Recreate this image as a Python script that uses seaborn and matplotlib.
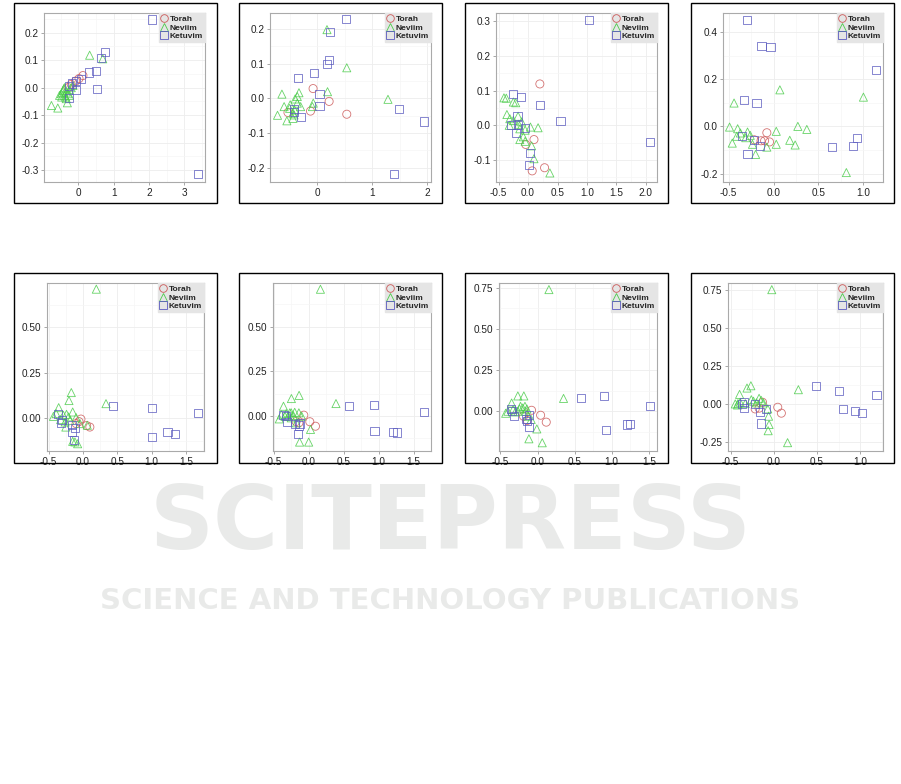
import matplotlib
matplotlib.use('Agg')
import matplotlib.pyplot as plt
from matplotlib.lines import Line2D
from matplotlib.patches import Rectangle
from matplotlib.ticker import FixedLocator, MultipleLocator
import seaborn as sns
import pandas as pd

groups = ['Torah', 'Neviim', 'Ketuvim']
colors = {'Torah': '#cc5a5a', 'Neviim': '#4ccc4c', 'Ketuvim': '#5a5abf'}
markers = {'Torah': 'o', 'Neviim': '^', 'Ketuvim': 's'}

torah_x = [
    [0.13, 0.02, -0.075, -0.2, -0.29],
    [-0.073, 0.219, -0.12, 0.54, -0.53],
    [0.20, 0.10, -0.04, 0.28, 0.07],
    [-0.075, -0.045, -0.14, -0.215, -0.10],
    [-0.03, 0.10, 0.053, -0.10, -0.058],
    [-0.07, 0.016, 0.097, -0.18, -0.14],
    [-0.081, 0.041, 0.117, -0.19, -0.14],
    [-0.13, 0.046, 0.088, -0.215, -0.17],
]
torah_y = [
    [0.044, 0.033, 0.024, 0.012, 0.0],
    [0.028, -0.009, -0.037, -0.046, -0.041],
    [0.119, -0.041, -0.055, -0.122, -0.131],
    [-0.027, -0.066, -0.061, -0.057, -0.061],
    [-0.006, -0.05, -0.042, -0.031, -0.02],
    [0.004, -0.033, -0.058, -0.032, -0.039],
    [0.006, -0.024, -0.066, -0.03, -0.056],
    [0.011, -0.022, -0.061, -0.033, -0.028],
]
neviim_x = [
    [0.32, 0.69, -0.76, -0.58, -0.31, -0.43, -0.48, -0.39, -0.34, -0.41, -0.25,
     -0.2, -0.36, -0.45, -0.29, -0.53, -0.15, -0.25, -0.39, -0.47, -0.34],
    [0.18, 0.54, 1.29, 0.19, -0.64, -0.33, -0.72, -0.55, -0.44, -0.40, -0.36,
     -0.07, -0.085, -0.60, -0.50, -0.41, -0.30, -0.44, -0.49, -0.36, -0.42],
    [-0.41, -0.37, -0.25, -0.21, -0.36, -0.17, -0.32, -0.16, -0.14, -0.05, 0.04,
     0.17, -0.14, -0.05, 0.06, 0.10, 0.37, -0.25, -0.11, -0.31, -0.08],
    [0.07, 1.0, -0.44, -0.49, -0.40, -0.29, 0.03, 0.27, 0.37, 0.18, 0.24,
     0.03, -0.075, -0.20, -0.46, -0.41, -0.31, 0.81, -0.235, -0.37, -0.26],
    [0.194, 0.335, -0.17, -0.204, -0.15, -0.354, -0.43, -0.39, -0.286, -0.24, -0.21,
     -0.25, -0.10, 0.063, -0.15, -0.078, -0.117, -0.325, -0.19, -0.26, -0.044],
    [0.168, 0.39, -0.137, -0.247, -0.36, -0.42, -0.39, -0.32, -0.25, -0.2, -0.14,
     -0.29, -0.22, -0.175, 0.026, -0.13, 0.0, -0.34, -0.25, -0.10, -0.27],
    [0.153, 0.35, -0.266, -0.185, -0.35, -0.43, -0.40, -0.23, -0.17, -0.144, -0.30,
     -0.243, -0.086, -0.01, -0.117, 0.063, -0.2, -0.33, -0.13, -0.266, -0.158],
    [-0.023, 0.285, 0.16, -0.31, -0.265, -0.396, -0.446, -0.415, -0.26, -0.17, -0.146,
     -0.2, -0.07, -0.06, -0.054, -0.065, -0.39, -0.235, -0.33, -0.12, -0.42],
]
neviim_y = [
    [0.118, 0.105, -0.065, -0.074, -0.055, -0.01, -0.022, -0.028, -0.016, -0.004, -0.007,
     0.0, -0.034, -0.017, -0.022, -0.028, 0.008, -0.028, 0.0, -0.034, -0.04],
    [0.198, 0.088, -0.003, 0.019, 0.012, 0.016, -0.049, -0.065, -0.058, -0.002, -0.014,
     -0.014, -0.024, -0.024, -0.029, -0.034, -0.024, -0.043, -0.019, 0.005, -0.048],
    [0.079, 0.078, 0.067, 0.065, 0.031, 0.026, 0.0, 0.003, -0.01, -0.014, -0.005,
     -0.007, -0.041, -0.046, -0.059, -0.096, -0.137, 0.014, 0.01, 0.019, -0.033],
    [0.155, 0.124, 0.099, -0.003, -0.01, -0.024, -0.021, 0.0, -0.013, -0.059, -0.079,
     -0.076, -0.088, -0.119, -0.071, -0.042, -0.048, -0.196, -0.076, -0.028, -0.038],
    [0.71, 0.079, 0.14, 0.096, 0.033, 0.057, 0.009, 0.024, 0.015, 0.02, 0.006,
     -0.05, 0.002, -0.04, -0.129, -0.142, -0.132, -0.009, -0.013, -0.022, -0.031],
    [0.71, 0.069, 0.115, 0.097, 0.054, -0.017, 0.006, 0.013, 0.017, 0.02, 0.017,
     -0.002, 0.002, -0.039, -0.076, -0.147, -0.147, -0.002, -0.011, -0.002, 0.017],
    [0.738, 0.078, 0.093, 0.093, 0.05, -0.012, 0.0, 0.03, 0.03, 0.014, -0.004,
     0.014, -0.05, -0.107, -0.167, -0.191, 0.02, 0.01, -0.03, 0.0, 0.0],
    [0.755, 0.094, -0.256, 0.105, 0.12, 0.063, 0.0, 0.002, 0.028, 0.037, 0.024,
     0.007, -0.033, -0.081, -0.136, -0.177, 0.011, 0.018, 0.002, 0.007, -0.007],
]
ketuvim_x = [
    [2.08, 3.39, 0.755, 0.64, 0.50, 0.30, 0.53, 0.085, -0.057, -0.057, -0.26, -0.26, -0.17],
    [0.53, 0.237, 0.213, 0.176, -0.06, -0.34, 0.043, 0.043, -0.30, -0.42, 1.49, 1.95, 1.40, -0.42],
    [1.04, 2.07, 0.55, 0.21, -0.12, -0.25, -0.18, -0.29, -0.21, -0.05, 0.03, 0.02, -0.17],
    [-0.30, -0.134, -0.034, 1.14, -0.334, -0.19, -0.35, -0.22, -0.15, -0.29, 0.65, 0.88, 0.93],
    [0.44, 1.0, 1.68, 1.0, 1.23, 1.345, -0.364, -0.316, -0.30, -0.16, -0.11, -0.16, -0.126],
    [0.58, 0.93, 1.65, 0.94, 1.2, 1.26, -0.36, -0.31, -0.33, -0.13, -0.14, -0.15, -0.2],
    [0.58, 0.89, 1.52, 0.92, 1.2, 1.25, -0.36, -0.32, -0.34, -0.11, -0.14, -0.12, -0.15],
    [0.49, 0.76, 1.19, 0.805, 0.94, 1.02, -0.34, -0.34, -0.37, -0.085, -0.158, -0.146, -0.215],
]
ketuvim_y = [
    [0.248, -0.315, 0.130, 0.109, 0.061, 0.055, -0.005, 0.033, 0.024, -0.01, -0.036, 0.005, 0.015],
    [0.229, 0.191, 0.111, 0.098, 0.074, 0.059, 0.012, -0.023, -0.053, -0.03, -0.031, -0.067, -0.219, -0.039],
    [0.303, -0.047, 0.013, 0.059, 0.082, 0.089, 0.027, 0.001, -0.022, -0.008, -0.079, -0.113, 0.001],
    [0.452, 0.341, 0.338, 0.240, 0.112, 0.099, -0.042, -0.057, -0.085, -0.117, -0.088, -0.085, -0.048],
    [0.064, 0.053, 0.026, -0.103, -0.079, -0.088, 0.02, -0.026, -0.013, -0.037, -0.053, -0.079, -0.12],
    [0.054, 0.061, 0.022, -0.084, -0.089, -0.093, 0.007, -0.035, -0.002, -0.043, -0.054, -0.102, -0.045],
    [0.08, 0.093, 0.032, -0.113, -0.08, -0.078, 0.014, -0.028, 0.0, -0.024, -0.06, -0.095, -0.046],
    [0.118, 0.088, 0.057, -0.033, -0.048, -0.059, 0.013, -0.026, 0.002, -0.033, -0.055, -0.129, 0.0],
]

x_ticks = [
    [0, 1, 2, 3], [0, 1, 2], [-0.5, 0.0, 0.5, 1.0, 1.5, 2.0], [-0.5, 0.0, 0.5, 1.0],
    [-0.5, 0.0, 0.5, 1.0, 1.5], [-0.5, 0.0, 0.5, 1.0, 1.5], [-0.5, 0.0, 0.5, 1.0, 1.5], [-0.5, 0.0, 0.5, 1.0],
]
y_ticks = [
    [-0.3, -0.2, -0.1, 0.0, 0.1, 0.2], [-0.2, -0.1, 0.0, 0.1, 0.2], [-0.1, 0.0, 0.1, 0.2, 0.3],
    [-0.2, 0.0, 0.2, 0.4], [0.0, 0.25, 0.5], [0.0, 0.25, 0.5], [0.0, 0.25, 0.5, 0.75],
    [-0.25, 0.0, 0.25, 0.5, 0.75],
]
x_fmt = ['{:.0f}', '{:.0f}', '{:.1f}', '{:.1f}', '{:.1f}', '{:.1f}', '{:.1f}', '{:.1f}']
y_fmt = ['{:.1f}', '{:.1f}', '{:.1f}', '{:.1f}', '{:.2f}', '{:.2f}', '{:.2f}', '{:.2f}']
x_lims = [(-0.97, 3.58), (-0.857, 2.073), (-0.545, 2.19), (-0.563, 1.218),
          (-0.524, 1.762), (-0.51, 1.748), (-0.52, 1.61), (-0.53, 1.265)]
y_lims = [(-0.343, 0.2715), (-0.2415, 0.246), (-0.163, 0.323), (-0.236, 0.481),
          (-0.182, 0.744), (-0.197, 0.745), (-0.241, 0.778), (-0.311, 0.799)]

sns.set_theme(style='white')
plt.rcParams['font.family'] = ['Liberation Sans', 'DejaVu Sans']
plt.rcParams['axes.unicode_minus'] = False

W, H = 901, 784
fig = plt.figure(figsize=(W / 100, H / 100), dpi=100)

# posicoes em pixels: (esq, dir, topo, base) da area do grafico e da moldura
areas = [(44, 205, 13, 182), (270, 431, 13, 182), (496, 657, 13, 182), (723, 883, 13, 182),
         (47, 204, 283, 451), (273, 431, 283, 451), (499, 657, 283, 451), (728, 883, 283, 451)]
boxes = [(14, 217, 3, 203), (239, 442, 3, 203), (465, 668, 3, 203), (691, 894, 3, 203),
         (14, 217, 273, 463), (239, 442, 273, 463), (465, 668, 273, 463), (691, 894, 273, 463)]

# marca d'agua
fig.text(0.5, 1 - 525 / H, 'SCITEPRESS', ha='center', va='center', fontsize=64,
         fontweight='bold', color='#e9eae9', family='DejaVu Sans', zorder=0)
fig.text(0.5, 1 - 601 / H, 'SCIENCE AND TECHNOLOGY PUBLICATIONS', ha='center', va='center',
         fontsize=21, fontweight='bold', color='#e9eae9', family='DejaVu Sans', zorder=0)

for i in range(8):
    l, r, t, b = areas[i]
    ax = fig.add_axes([l / W, 1 - b / H, (r - l) / W, (b - t) / H])

    df = pd.concat([
        pd.DataFrame({'x': torah_x[i], 'y': torah_y[i], 'grupo': 'Torah'}),
        pd.DataFrame({'x': neviim_x[i], 'y': neviim_y[i], 'grupo': 'Neviim'}),
        pd.DataFrame({'x': ketuvim_x[i], 'y': ketuvim_y[i], 'grupo': 'Ketuvim'}),
    ])
    sns.scatterplot(data=df, x='x', y='y', hue='grupo', style='grupo', hue_order=groups,
                    style_order=groups, palette=colors, markers=markers, s=34,
                    legend=False, ax=ax, zorder=3)
    # marcadores vazados
    coll = ax.collections[-1]
    fc = coll.get_facecolors()
    fc[:, 3] = 0.85
    coll.set_edgecolors(fc)
    coll.set_facecolors('none')
    coll.set_linewidths(0.6)

    ax.set_xlim(*x_lims[i])
    ax.set_ylim(*y_lims[i])
    ax.xaxis.set_major_locator(FixedLocator(x_ticks[i]))
    ax.yaxis.set_major_locator(FixedLocator(y_ticks[i]))
    ax.set_xticklabels([x_fmt[i].format(v) for v in x_ticks[i]])
    ax.set_yticklabels([y_fmt[i].format(v) for v in y_ticks[i]])
    ax.xaxis.set_minor_locator(MultipleLocator((x_ticks[i][1] - x_ticks[i][0]) / 2))
    ax.yaxis.set_minor_locator(MultipleLocator((y_ticks[i][1] - y_ticks[i][0]) / 2))
    ax.grid(True, which='major', color='#ededed', lw=0.6, zorder=0)
    ax.grid(True, which='minor', color='#f6f6f6', lw=0.5, zorder=0)
    ax.set_axisbelow(True)
    ax.tick_params(which='major', length=2.5, width=0.6, color='#999999', labelsize=7.2,
                   labelcolor='#222222', pad=1.5, bottom=True, left=True)
    ax.tick_params(which='minor', length=0)
    ax.set_xlabel('')
    ax.set_ylabel('')
    for sp in ax.spines.values():
        sp.set_color('#aaaaaa')
        sp.set_linewidth(0.8)

    handles = [Line2D([], [], marker=markers[g], ls='none', mfc='none', mec=colors[g],
                      ms=5.5, mew=0.6) for g in groups]
    leg = ax.legend(handles, groups, loc='upper right', borderaxespad=0, frameon=True,
                    fancybox=False, facecolor='#e5e5e5', edgecolor='#e5e5e5', framealpha=1,
                    prop={'weight': 'bold', 'size': 6}, handlelength=0.8,
                    handletextpad=0.25, labelspacing=0.1, borderpad=0.25)
    leg.set_zorder(5)

    bl, br, bt, bb = boxes[i]
    fig.add_artist(Rectangle((bl / W, 1 - bb / H), (br - bl) / W, (bb - bt) / H,
                             transform=fig.transFigure, fill=False, ec='black', lw=1.0))

fig.savefig('out.png', dpi=100)
